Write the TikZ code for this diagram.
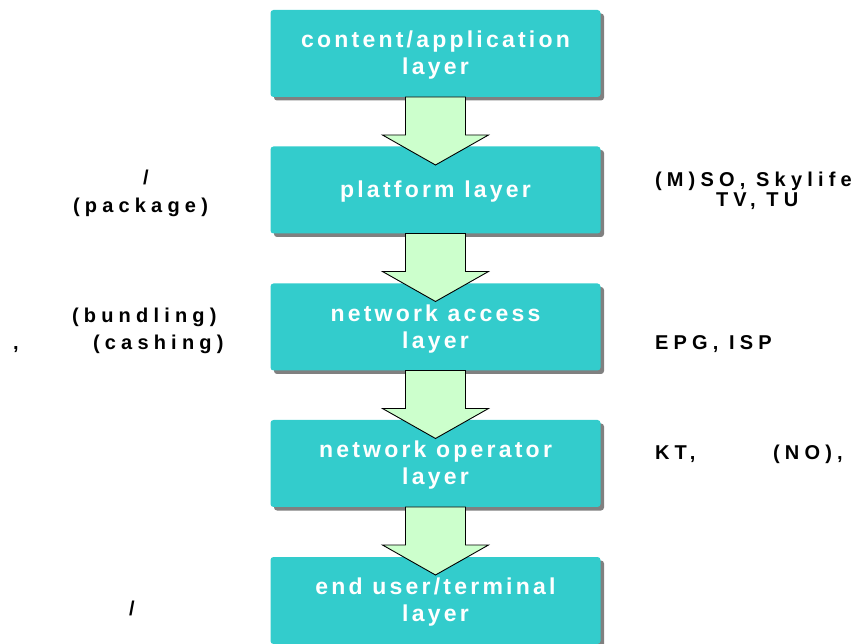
\documentclass[tikz,border=0pt]{standalone}
\usepackage{fontspec}
\setmainfont{Liberation Sans}
\newfontfamily\wfont{Liberation Sans}[LetterSpace=14]
\newfontfamily\kfont{Liberation Sans}[LetterSpace=26]
\usetikzlibrary{calc}
\definecolor{boxcol}{HTML}{33CCCC}
\definecolor{shadowcol}{HTML}{808080}
\definecolor{arrowcol}{HTML}{CCFFCC}
\newcommand\dn[1]{\raisebox{-2pt}[\height][\depth]{#1}}
\tikzset{
  layer/.style={rectangle, rounded corners=3pt, fill=boxcol, minimum width=330pt, minimum height=87pt,
    outer sep=0pt, inner sep=0pt, align=center, text=white,
    font=\wfont\bfseries\fontsize{23}{27}\selectfont,
    preaction={fill=shadowcol, transform canvas={shift={(3.5pt,-3.5pt)}}}},
  arr/.style={draw=black, line width=0.9pt, fill=arrowcol, line join=miter},
  lbl/.style={anchor=base west, inner sep=0pt, outer sep=0pt, text=black,
    font=\kfont\bfseries\fontsize{20}{20}\selectfont}
}
\newcommand\layerarrow[1]{%
  \draw[arr] ($(#1.south)+(-30,0)$) -- ($(#1.south)+(-30,38)$) -- ($(#1.south)+(-53,38)$)
    -- ($(#1.south)+(0,68)$) -- ($(#1.south)+(53,38)$) -- ($(#1.south)+(30,38)$)
    -- ($(#1.south)+(30,0)$) -- cycle;}
\begin{document}
\begin{tikzpicture}[x=1pt,y=-1pt]
\useasboundingbox (0,0) rectangle (855,644);
\node[layer] (b1) at (435.5,53.5) {\dn{content/application}\\\dn{layer}};
\node[layer] (b2) at (435.5,190) {\dn{platform layer}};
\node[layer] (b3) at (435.5,327) {\dn{network access}\\\dn{layer}};
\node[layer] (b4) at (435.5,463.5) {\dn{network operator}\\\dn{layer}};
\node[layer] (b5) at (435.5,600.5) {\dn{end user/terminal}\\\dn{layer}};
\layerarrow{b1}
\layerarrow{b2}
\layerarrow{b3}
\layerarrow{b4}
% left labels
\node[lbl] (l1) at (143,185) {/};
\node[lbl] (l2) at (73,213) {(package)};
\node[lbl] (l3) at (72,323) {(bundling)};
\node[lbl] (l4) at (13,350) {,};
\node[lbl] (l5) at (93,350) {(cashing)};
\node[lbl] (l6) at (129,615) {/};
% right labels
\node[lbl] (r1) at (655,187) {(M)SO, Skylife};
\node[lbl] (r2) at (716,207) {TV, TU};
\node[lbl] (r3) at (655,350) {EPG, ISP};
\node[lbl] (r4) at (655,460) {KT,};
\node[lbl] (r5) at (773,460) {(NO),};
\end{tikzpicture}
\end{document}
